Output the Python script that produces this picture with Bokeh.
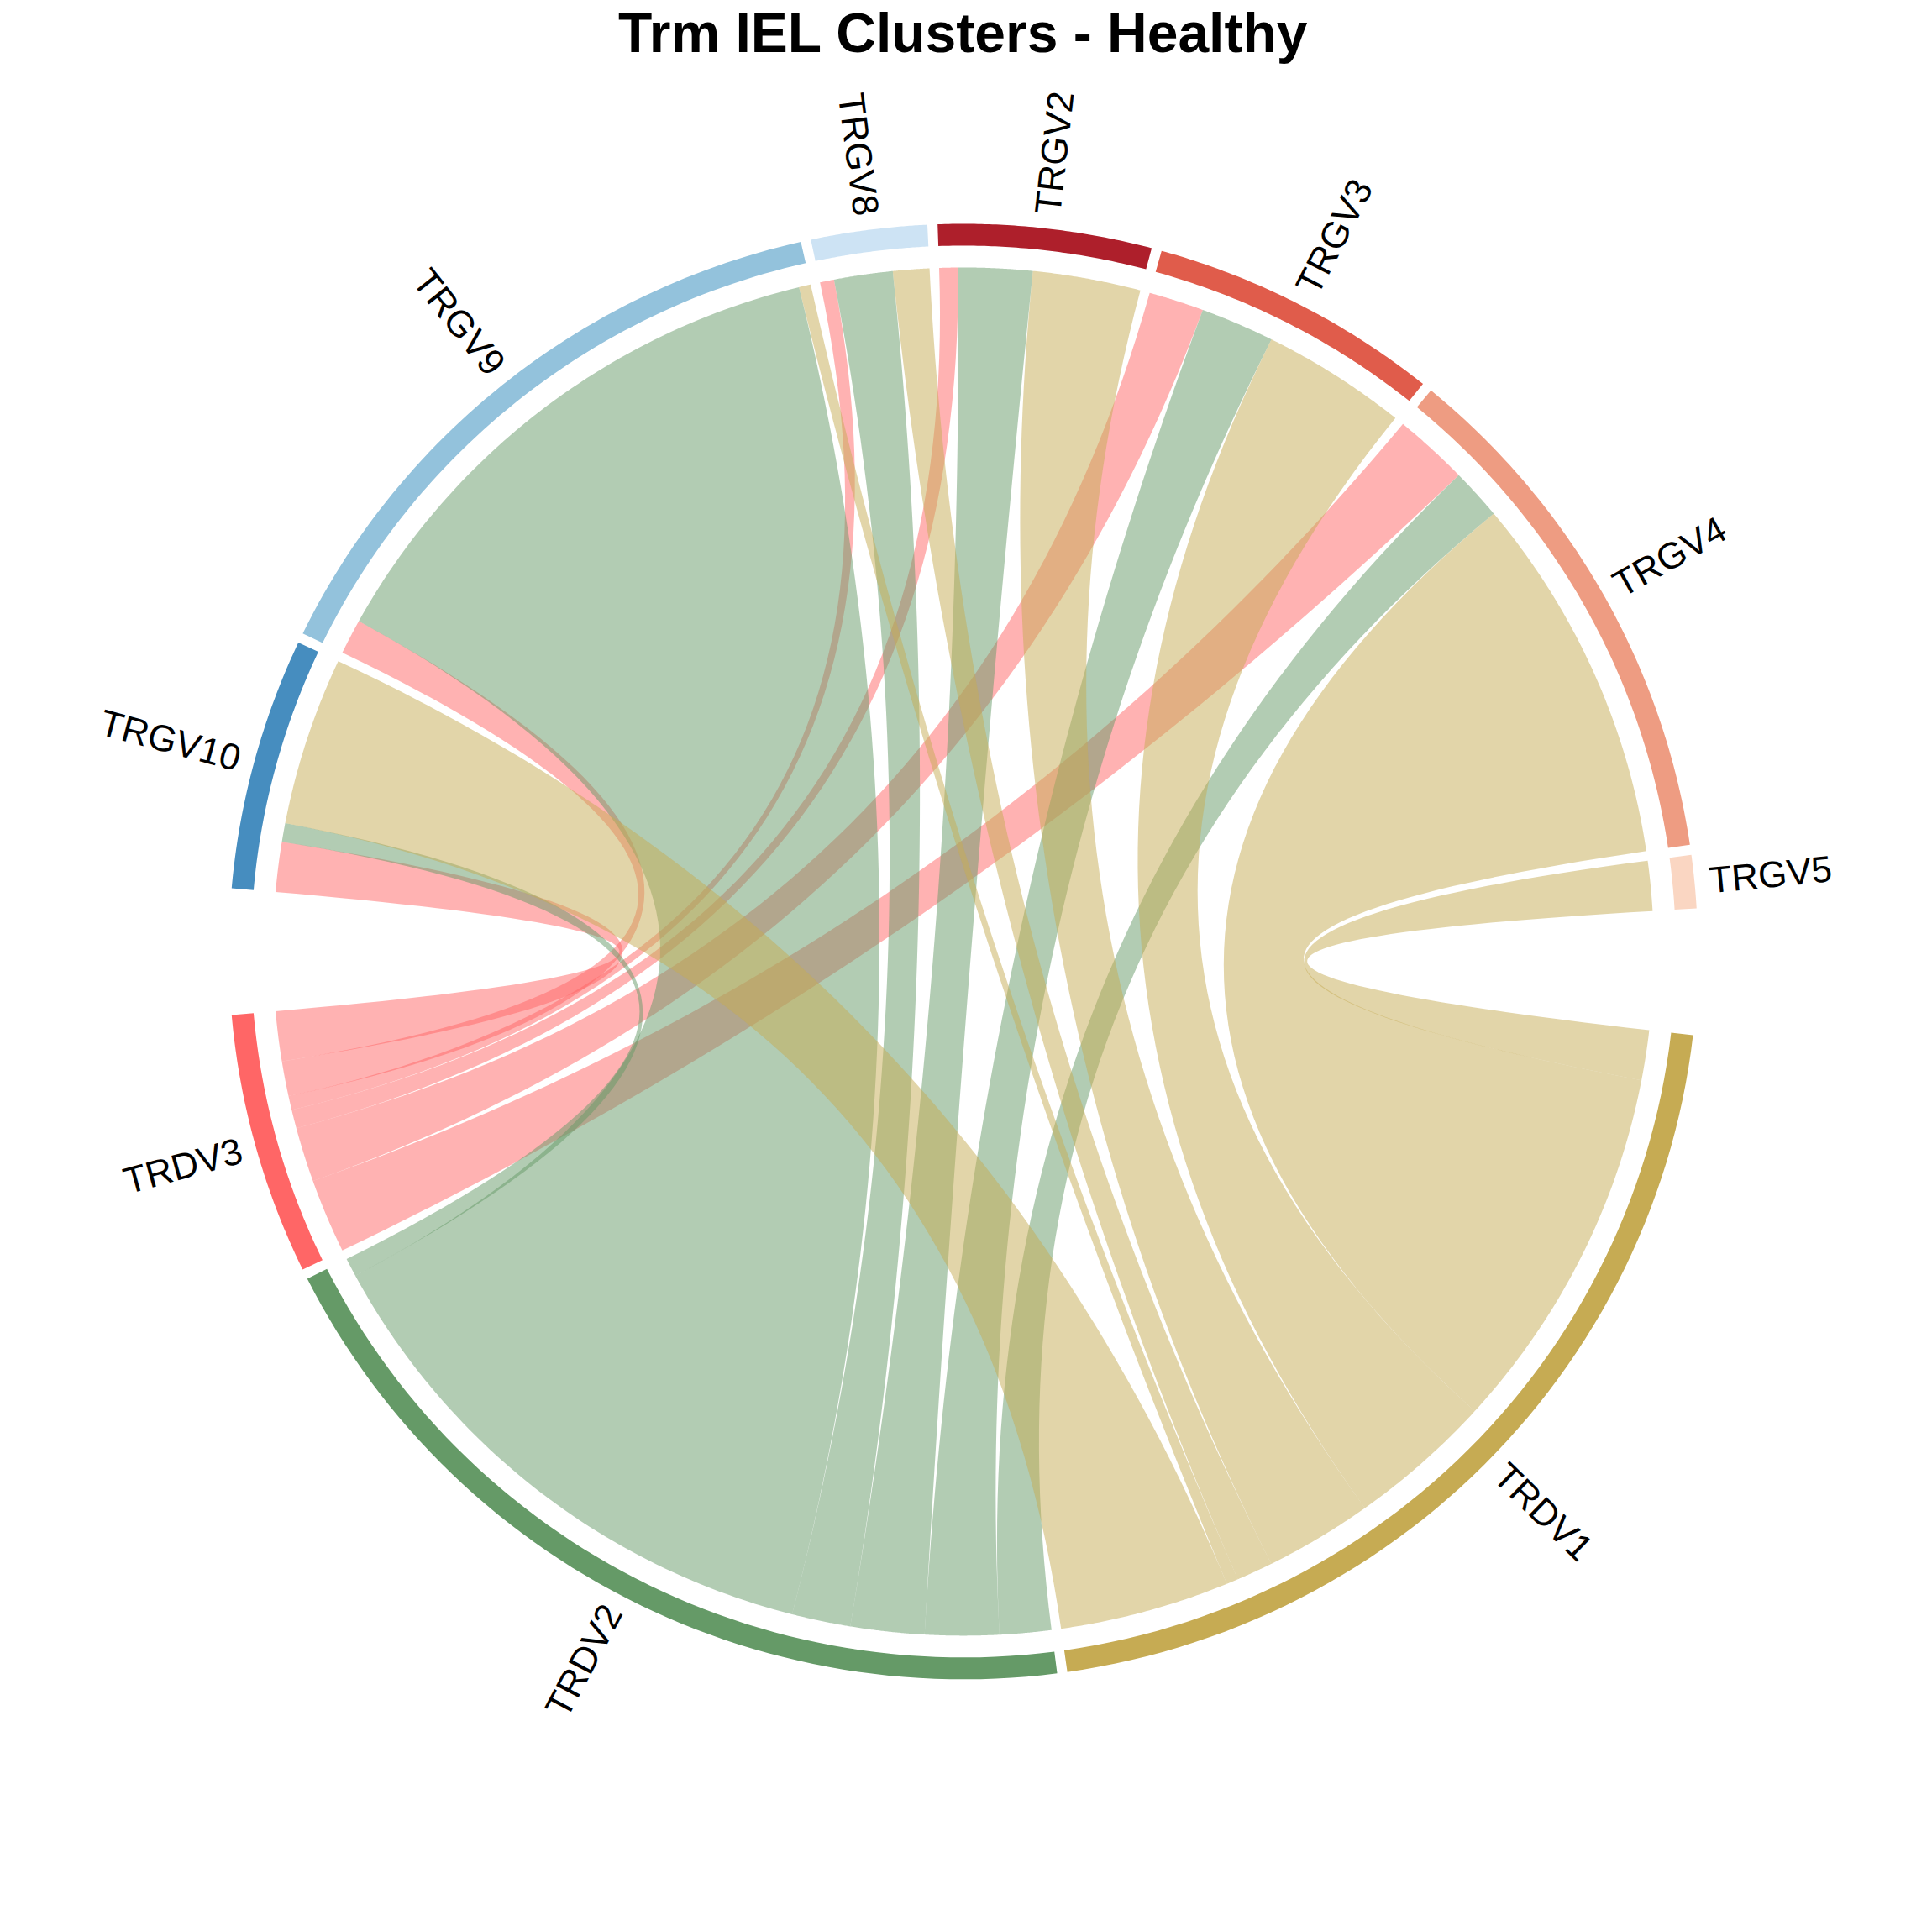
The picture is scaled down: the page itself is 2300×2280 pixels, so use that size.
import numpy as np
from bokeh.plotting import figure
from bokeh.models import Range1d
from bokeh.core.properties import value
from bokeh.embed import file_html
from bokeh.resources import INLINE

# sectors of the upper half (in counter-clockwise order from the right)
gv_names = ["TRGV5", "TRGV4", "TRGV3", "TRGV2", "TRGV8", "TRGV9", "TRGV10"]
gv_colors = ["#FAD6C2", "#EE9C82", "#E05C4B", "#AE1F2B", "#CDE3F4", "#93C2DC", "#468DBF"]
# lower half sectors (counter-clockwise from the left)
dv_names = ["TRDV3", "TRDV2", "TRDV1"]
dv_colors = ["#FF6666", "#659A67", "#C6AB53"]

# link widths, columns follow gv_names
trdv1 = [4.3, 31.8, 12.4, 9.2, 3.1, 1.0, 14.5]
trdv2 = [0.0, 4.4, 6.3, 6.3, 5.0, 48.0, 1.6]
trdv3 = [0.0, 6.4, 4.7, 1.6, 1.2, 3.0, 4.3]

title = "Trm IEL Clusters - Healthy"

links = {"TRDV1": trdv1, "TRDV2": trdv2, "TRDV3": trdv3}
total = sum(trdv1) + sum(trdv2) + sum(trdv3)
big_gap, small_gap = 10.0, 0.8
scale = (360 - 2 * big_gap - 8 * small_gap) / (2 * total)

R_OUT, R_IN, R_CH = 1.0, 0.97, 0.94

p = figure(width=2284, height=2264, output_backend="svg", toolbar_location=None,
           x_range=Range1d(-1.311, 1.301), y_range=Range1d(-1.306, 1.307))
p.axis.visible = False
p.grid.visible = False
p.outline_line_color = None
p.min_border = 0


def arc_pts(r, a1, a2, n=60):
    t = np.radians(np.linspace(a1, a2, n))
    return list(r * np.cos(t)), list(r * np.sin(t))


def bez(p0, p2, n=60):
    t = np.linspace(0, 1, n)
    x = (1 - t) ** 2 * p0[0] + t ** 2 * p2[0]
    y = (1 - t) ** 2 * p0[1] + t ** 2 * p2[1]
    return list(x), list(y)


# sector spans
gv_span, dv_span = {}, {}
a = 3.4
for k, nm in enumerate(gv_names):
    w = (trdv1[k] + trdv2[k] + trdv3[k]) * scale
    gv_span[nm] = (a, a + w)
    a += w + small_gap
a = a - small_gap + big_gap
for nm in dv_names:
    w = sum(links[nm]) * scale
    dv_span[nm] = (a, a + w)
    a += w + small_gap

# link endpoints
gv_pos = {}
for k, nm in enumerate(gv_names):
    s = gv_span[nm][0]
    for d in ["TRDV1", "TRDV2", "TRDV3"]:
        w = links[d][k] * scale
        gv_pos[(d, nm)] = (s, s + w)
        s += w
dv_pos = {}
for d in dv_names:
    e = dv_span[d][1]
    for k, nm in enumerate(gv_names):
        w = links[d][k] * scale
        dv_pos[(d, nm)] = (e - w, e)
        e -= w

xs, ys, cols = [], [], []
for d, col in zip(dv_names, dv_colors):
    for k, nm in enumerate(gv_names):
        if links[d][k] <= 0:
            continue
        g1, g2 = gv_pos[(d, nm)]
        t1, t2 = dv_pos[(d, nm)]
        x1, y1 = arc_pts(R_CH, g1, g2)
        pe = (x1[-1], y1[-1])
        x2, y2 = arc_pts(R_CH, t1, t2)
        bx1, by1 = bez(pe, (x2[0], y2[0]))
        bx2, by2 = bez((x2[-1], y2[-1]), (x1[0], y1[0]))
        xs.append(x1 + bx1 + x2 + bx2)
        ys.append(y1 + by1 + y2 + by2)
        cols.append(col)
p.patches(xs, ys, fill_color=cols, fill_alpha=0.5, line_color=None)

# outer track and labels
all_names = gv_names + dv_names
all_cols = gv_colors + dv_colors
spans = dict(gv_span, **dv_span)
for nm, col in zip(all_names, all_cols):
    s, e = spans[nm]
    ox, oy = arc_pts(R_OUT, s, e)
    ix, iy = arc_pts(R_IN, e, s)
    p.patch(ox + ix, oy + iy, fill_color=col, line_color=None)
    m = (s + e) / 2
    rad = np.radians(m)
    lx, ly = 1.02 * np.cos(rad), 1.02 * np.sin(rad)
    ang = m % 360
    if 90 < ang < 270:
        tang, align = np.radians(ang + 180), "right"
    else:
        tang, align = np.radians(ang), "left"
    p.text([lx], [ly], text=[nm], angle=tang, text_align=align, text_baseline="middle",
           text_font=value("Liberation Sans"), text_font_size="44px", text_color="black")

p.text([0.0], [1.263], text=[title], text_align="center", text_baseline="middle",
       text_font=value("Liberation Sans"), text_font_style="bold", text_font_size="66px",
       text_color="black")

open("out.html", "w").write(file_html(p, INLINE))
